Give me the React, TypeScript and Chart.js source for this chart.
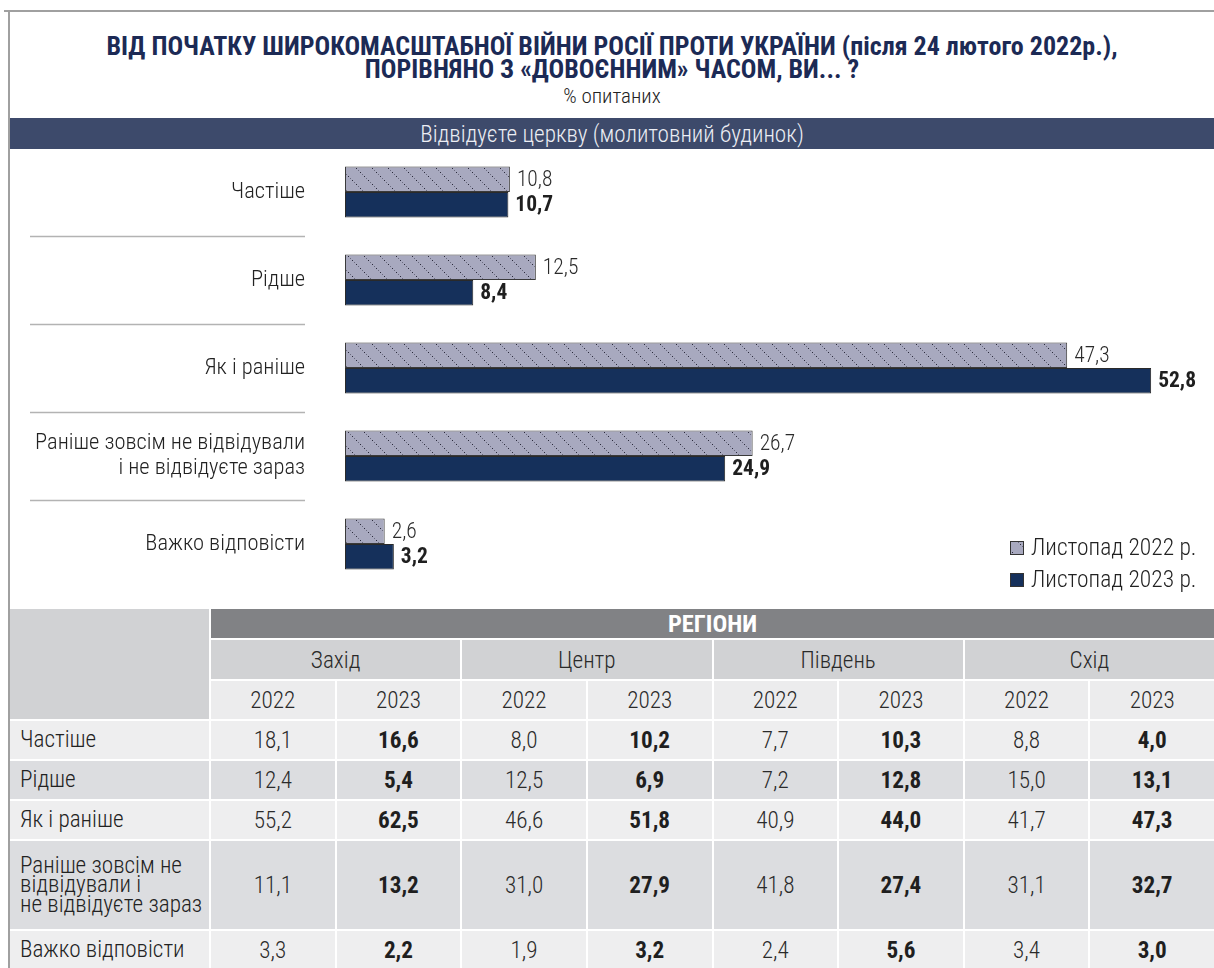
import React, { useEffect, useRef } from 'react';
import { Chart, registerables } from 'chart.js';
Chart.register(...registerables);

const categories: (string | string[])[] = [
  'Частіше',
  'Рідше',
  'Як і раніше',
  ['Раніше зовсім не відвідували', 'і не відвідуєте зараз'],
  'Важко відповісти',
];
const series2022 = [10.8, 12.5, 47.3, 26.7, 2.6];
const series2023 = [10.7, 8.4, 52.8, 24.9, 3.2];
const legendLabels = ['Листопад 2022 р.', 'Листопад 2023 р.'];

const tableRowLabels: string[][] = [
  ['Частіше'],
  ['Рідше'],
  ['Як і раніше'],
  ['Раніше зовсім не', 'відвідували і', 'не відвідуєте зараз'],
  ['Важко відповісти'],
];
const regions = ['Захід', 'Центр', 'Південь', 'Схід'];
const years = ['2022', '2023'];
const west2022 = [18.1, 12.4, 55.2, 11.1, 3.3];
const west2023 = [16.6, 5.4, 62.5, 13.2, 2.2];
const center2022 = [8.0, 12.5, 46.6, 31.0, 1.9];
const center2023 = [10.2, 6.9, 51.8, 27.9, 3.2];
const south2022 = [7.7, 7.2, 40.9, 41.8, 2.4];
const south2023 = [10.3, 12.8, 44.0, 27.4, 5.6];
const east2022 = [8.8, 15.0, 41.7, 31.1, 3.4];
const east2023 = [4.0, 13.1, 47.3, 32.7, 3.0];

const FONT = "'Roboto Condensed', 'DejaVu Sans Condensed', Roboto, sans-serif";
const NAVY = '#15305b';
const LAV = '#a8a9bf';

const fmt = (v: number) => v.toFixed(1).replace('.', ',');

function makePattern(): CanvasPattern | string {
  const c = document.createElement('canvas');
  c.width = 16;
  c.height = 16;
  const g = c.getContext('2d');
  if (!g) return LAV;
  g.fillStyle = LAV;
  g.fillRect(0, 0, 16, 16);
  g.fillStyle = '#2b2b3c';
  for (let i = 0; i < 16; i += 4) g.fillRect(i, i, 1, 1);
  g.fillStyle = '#6b6c80';
  for (let i = 2; i < 16; i += 4) g.fillRect(i, i, 1, 1);
  return g.createPattern(c, 'repeat') || LAV;
}

function BarChart() {
  const ref = useRef<HTMLCanvasElement>(null);
  useEffect(() => {
    if (!ref.current) return;
    const pattern = makePattern();
    const labelPlugin = {
      id: 'labelsAndLines',
      afterDatasetsDraw(chart: any) {
        const ctx = chart.ctx;
        ctx.save();
        ctx.textBaseline = 'middle';
        ctx.textAlign = 'left';
        chart.data.datasets.forEach((ds: any, di: number) => {
          const meta = chart.getDatasetMeta(di);
          meta.data.forEach((el: any, i: number) => {
            ctx.font = `${di === 1 ? 'bold' : '300'} 21.5px ${FONT}`;
            ctx.fillStyle = di === 1 ? '#1f1f1f' : '#2a2a2a';
            ctx.fillText(fmt(ds.data[i]), el.x + 7, el.y + 1);
          });
        });
        const ys = chart.scales.y;
        ctx.strokeStyle = '#b3b3b3';
        ctx.lineWidth = 1.5;
        for (let i = 0; i < categories.length - 1; i++) {
          const y = Math.round((ys.getPixelForTick(i) + ys.getPixelForTick(i + 1)) / 2) + 0.5;
          ctx.beginPath();
          ctx.moveTo(30, y);
          ctx.lineTo(305, y);
          ctx.stroke();
        }
        // legend
        const fills = [pattern, NAVY];
        const legY = [400, 432];
        legendLabels.forEach((t, i) => {
          ctx.fillStyle = fills[i];
          ctx.fillRect(1010, legY[i] - 7, 14, 14);
          ctx.strokeStyle = '#333';
          ctx.lineWidth = 1;
          ctx.strokeRect(1010.5, legY[i] - 6.5, 13, 13);
          ctx.fillStyle = '#222';
          ctx.font = `300 23.5px ${FONT}`;
          ctx.fillText(t, 1031, legY[i] + 1);
        });
        ctx.restore();
      },
    };
    const chart = new Chart(ref.current, {
      type: 'bar',
      data: {
        labels: categories as any,
        datasets: [
          { label: legendLabels[0], data: series2022, backgroundColor: pattern as any, borderColor: '#3a3a3a', borderWidth: 1, borderSkipped: false },
          { label: legendLabels[1], data: series2023, backgroundColor: NAVY, borderColor: '#2a2a2a', borderWidth: 1, borderSkipped: false },
        ],
      },
      options: {
        indexAxis: 'y',
        animation: false,
        responsive: false,
        maintainAspectRatio: false,
        layout: { padding: { left: 0, right: 14, top: 0, bottom: 20 } },
        datasets: { bar: { barPercentage: 1, categoryPercentage: 0.58 } },
        plugins: { legend: { display: false }, tooltip: { enabled: false } },
        scales: {
          x: { display: false, min: 0, max: 56 },
          y: {
            grid: { display: false, drawTicks: false },
            border: { display: false },
            ticks: {
              padding: 40,
              color: '#222',
              font: { family: FONT, size: 22.5, weight: '300', lineHeight: 1.1 },
            },
            afterFit: (s: any) => {
              s.width = 345;
              s.paddingTop = 0;
              s.paddingBottom = 0;
            },
          },
        },
      },
      plugins: [labelPlugin],
    } as any);
    return () => chart.destroy();
  }, []);
  return <canvas ref={ref} width={1214} height={460} style={{ position: 'absolute', left: 0, top: 148, width: 1214, height: 460 }} />;
}

export default function App() {
  const cols: number[][] = [west2022, west2023, center2022, center2023, south2022, south2023, east2022, east2023];
  const rowH = [29, 39, 38, 38, 38, 38, 88, 38];
  const lightRow = '#eeeeef';
  const darkRow = '#dcdde0';
  const cells: React.ReactNode[] = [];
  cells.push(<div key="hdr" style={{ gridColumn: '1', gridRow: '1 / 4', background: '#d1d2d4' }} />);
  cells.push(
    <div key="reg" style={{ gridColumn: '2 / 10', gridRow: '1', background: '#818285', color: '#fff', fontWeight: 'bold', display: 'flex', alignItems: 'center', justifyContent: 'center', fontSize: 24.5 }}>РЕГІОНИ</div>
  );
  regions.forEach((r, i) => {
    cells.push(
      <div key={'r' + i} style={{ gridColumn: `${2 + i * 2} / ${4 + i * 2}`, gridRow: '2', background: '#d1d2d4', display: 'flex', alignItems: 'center', justifyContent: 'center', color: '#2a2a2a' }}>{r}</div>
    );
    years.forEach((y, j) => {
      cells.push(
        <div key={'y' + i + j} style={{ gridColumn: `${2 + i * 2 + j}`, gridRow: '3', background: '#ececed', display: 'flex', alignItems: 'center', justifyContent: 'center', color: '#2a2a2a' }}>{y}</div>
      );
    });
  });
  tableRowLabels.forEach((lab, ri) => {
    const bg = ri % 2 === 0 ? lightRow : darkRow;
    cells.push(
      <div key={'l' + ri} style={{ gridColumn: '1', gridRow: `${4 + ri}`, background: bg, display: 'flex', flexDirection: 'column', justifyContent: 'center', paddingLeft: 10, lineHeight: '19.5px', color: '#222' }}>
        {lab.map((t, k) => <span key={k}>{t}</span>)}
      </div>
    );
    cols.forEach((c, ci) => {
      cells.push(
        <div key={'v' + ri + '_' + ci} style={{ gridColumn: `${2 + ci}`, gridRow: `${4 + ri}`, background: bg, display: 'flex', alignItems: 'center', justifyContent: 'center', fontWeight: ci % 2 === 1 ? 700 : 300, color: ci % 2 === 1 ? '#1f1f1f' : '#2a2a2a' }}>
          {fmt(c[ri])}
        </div>
      );
    });
  });

  return (
    <div style={{ position: 'absolute', left: 0, top: 0, width: 1214, height: 968, overflow: 'hidden', background: '#fff', fontFamily: FONT, fontWeight: 300 }}>
      <div style={{ position: 'absolute', left: 4, top: 10, width: 1210, height: 2, background: '#a0a0a0' }} />
      <div style={{ position: 'absolute', left: 8, top: 10, width: 2, height: 958, background: '#a0a0a0' }} />
      <div style={{ position: 'absolute', left: 10, top: 35, width: 1204, textAlign: 'center', color: '#1c2a55', fontWeight: 700, fontSize: 26, lineHeight: '23px' }}>
        <div>ВІД ПОЧАТКУ ШИРОКОМАСШТАБНОЇ ВІЙНИ РОСІЇ ПРОТИ УКРАЇНИ (після 24 лютого 2022р.),</div>
        <div>ПОРІВНЯНО З «ДОВОЄННИМ» ЧАСОМ, ВИ... ?</div>
      </div>
      <div style={{ position: 'absolute', left: 10, top: 85, width: 1204, textAlign: 'center', color: '#222', fontSize: 21, lineHeight: '22px' }}>% опитаних</div>
      <div style={{ position: 'absolute', left: 10, top: 118, width: 1204, height: 31, background: '#3d4a6b', color: '#eceef4', fontSize: 23.2, display: 'flex', alignItems: 'center', justifyContent: 'center' }}>
        Відвідуєте церкву (молитовний будинок)
      </div>
      <BarChart />
      <div style={{ position: 'absolute', left: 10, top: 609, width: 1204, display: 'grid', gridTemplateColumns: '199px repeat(8, 1fr)', gridTemplateRows: rowH.map((h) => h + 'px').join(' '), gap: 2, background: '#fff', fontSize: 23.2 }}>
        {cells}
      </div>
    </div>
  );
}
